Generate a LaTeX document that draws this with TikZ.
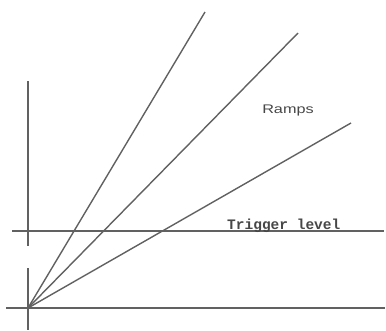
\documentclass[tikz,border=0pt]{standalone}
\usepackage{fontspec}
\newfontfamily\monofont{Liberation Mono}
\newfontfamily\sansfont{Liberation Sans}
\begin{document}
\begin{tikzpicture}[x=1pt,y=-1pt,
  ln/.style={draw=black!62,line width=1.4pt},
  lbl/.style={inner sep=0pt,text=black!72}]
\useasboundingbox (0,0) rectangle (386,330);
% axes
\coordinate (vtop) at (28,81);
\coordinate (vgap1) at (28,246);
\coordinate (vgap2) at (28,268);
\coordinate (vbot) at (28,330);
\coordinate (o) at (28,308);
\coordinate (bl) at (6,308);
\coordinate (br) at (385,308);
\coordinate (tl) at (12,231);
\coordinate (tr) at (384,231);
\draw[ln] (vtop) -- (vgap1);
\draw[ln] (vgap2) -- (vbot);
\draw[ln] (bl) -- (br);
\draw[ln] (tl) -- (tr);
% ramps
\coordinate (r1) at (205,12);
\coordinate (r2) at (298,33);
\coordinate (r3) at (351,123);
\draw[ln] (o) -- (r1);
\draw[ln] (o) -- (r2);
\draw[ln] (o) -- (r3);
% labels
\node[lbl] (ramps) at (288,110) {\sansfont\fontsize{12.5}{12.5}\selectfont\scalebox{1.3}[1]{Ramps}};
\node[lbl,anchor=base west] (trig) at (227,229.5) {\monofont\bfseries\fontsize{14.5}{14.5}\selectfont Trigger level};
\end{tikzpicture}
\end{document}
